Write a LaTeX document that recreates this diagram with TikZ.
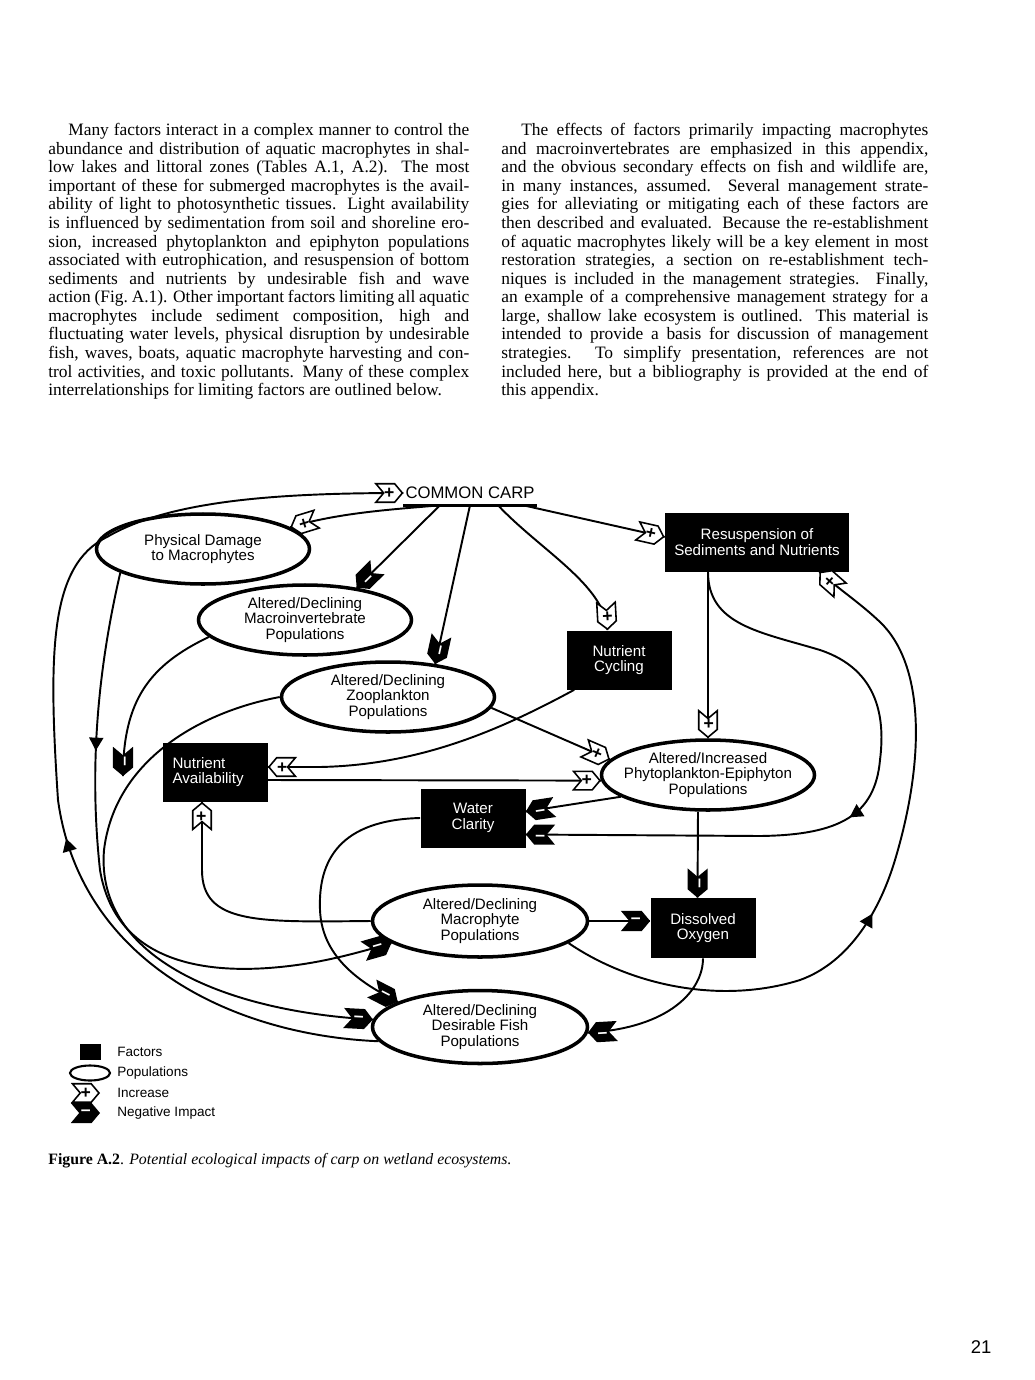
\documentclass[tikz,border=0pt]{standalone}
\usepackage{fontspec}
\setmainfont{Liberation Serif}
\setsansfont{Liberation Sans}
\usetikzlibrary{shapes.geometric,shapes.symbols,arrows.meta,decorations.markings}
\tikzset{
  % FACTOR BOXES
  frameFactor/.style={
    rectangle,
    fill=black,
    text=white,
    minimum width=21mm,
    minimum height=11.8mm,
    inner sep=1mm,
    align=center,
    font=\sffamily\fontsize{8.6}{9}\selectfont
  },
  % POPULATION ELLIPSES
  framePopulation/.style={
    ellipse,
    draw,
    line width=2pt,
    minimum width=42.6mm,
    minimum height=14mm,
    inner xsep=-6pt,
    inner ysep=0pt,
    align=center,
    font=\sffamily\fontsize{8.6}{9}\selectfont
  },
  % CARP TITLE
  frameCarp/.style={
    inner xsep=1pt,
    inner ysep=3.4pt,
    font=\sffamily\fontsize{9.5}{11}\selectfont
  },
  % LEGEND TEXT
  frameKey/.style={
    anchor=west,
    inner sep=0pt,
    font=\sffamily\fontsize{7.7}{9}\selectfont
  },
  % PAGE TEXT
  frameBody/.style={
    anchor=north west,
    inner sep=0pt,
    align=justify,
    font=\rmfamily\fontsize{9.9}{10.57}\selectfont,
    execute at begin node={\tolerance=9999\hyphenpenalty=10000}
  },
  frameCaption/.style={
    anchor=base west,
    inner sep=0pt,
    font=\rmfamily\fontsize{9}{11}\selectfont
  },
  framePage/.style={
    inner sep=0pt,
    font=\sffamily\fontsize{10.5}{12}\selectfont
  },
  % EFFECT MARKERS
  markIncrease/.style={
    signal,
    signal from=west,
    signal to=east,
    signal pointer angle=100,
    draw,
    fill=white,
    line width=0.9pt,
    minimum width=5.3mm,
    minimum height=3.7mm,
    inner sep=0pt,
    font=\sffamily\bfseries\fontsize{10}{10}\selectfont,
    sloped,
    allow upside down,
    anchor=east
  },
  markNegative/.style={
    markIncrease,
    fill=black,
    text=white
  },
  % CONNECTORS
  lineLink/.style={
    draw,
    line width=1.1pt
  },
  midArrow/.style={
    postaction={decorate},
    decoration={markings,
      mark=at position #1 with {\arrow{Triangle[length=2.6mm,width=2.8mm]}}}
  }
}

\begin{document}
\begin{tikzpicture}[x=0.2mm,y=-0.2mm]

\path [use as bounding box, fill=white] (0,0) rectangle (1035,1380);

% Page text
\node [frameBody, text width=84.2mm] (text_left) at (48,123) {\hspace*{4mm}Many factors interact in a complex manner to control the\linebreak
abundance and distribution of aquatic macrophytes in shal-\linebreak
low lakes and littoral zones (Tables A.1, A.2). The most\linebreak
important of these for submerged macrophytes is the avail-\linebreak
ability of light to photosynthetic tissues. Light availability\linebreak
is influenced by sedimentation from soil and shoreline ero-\linebreak
sion, increased phytoplankton and epiphyton populations\linebreak
associated with eutrophication, and resuspension of bottom\linebreak
sediments and nutrients by undesirable fish and wave\linebreak
action (Fig.\ A.1). Other important factors limiting all aquatic\linebreak
macrophytes include sediment composition, high and\linebreak
fluctuating water levels, physical disruption by undesirable\linebreak
fish, waves, boats, aquatic macrophyte harvesting and con-\linebreak
trol activities, and toxic pollutants. Many of these complex\linebreak
interrelationships for limiting factors are outlined below.};

\node [frameBody, text width=85.4mm] (text_right) at (501,123) {\hspace*{4mm}The effects of factors primarily impacting macrophytes\linebreak
and macroinvertebrates are emphasized in this appendix,\linebreak
and the obvious secondary effects on fish and wildlife are,\linebreak
in many instances, assumed. Several management strate-\linebreak
gies for alleviating or mitigating each of these factors are\linebreak
then described and evaluated. Because the re-establishment\linebreak
of aquatic macrophytes likely will be a key element in most\linebreak
restoration strategies, a section on re-establishment tech-\linebreak
niques is included in the management strategies. Finally,\linebreak
an example of a comprehensive management strategy for a\linebreak
large, shallow lake ecosystem is outlined. This material is\linebreak
intended to provide a basis for discussion of management\linebreak
strategies. To simplify presentation, references are not\linebreak
included here, but a bibliography is provided at the end of\linebreak
this appendix.};

% Carp
\node [frameCarp] (carp) at (470,493) {COMMON CARP};
\draw [line width=1.7pt] (carp.south west) -- (carp.south east);

% Populations
\node [framePopulation] (pop_damage) at (203,549) {Physical Damage\\to Macrophytes};
\node [framePopulation] (pop_macroinv) at (305,620) {Altered/Declining\\Macroinvertebrate\\Populations};
\node [framePopulation] (pop_zooplankton) at (388,697) {Altered/Declining\\Zooplankton\\Populations};
\node [framePopulation] (pop_phyto) at (708,775) {Altered/Increased\\Phytoplankton-Epiphyton\\Populations};
\node [framePopulation, minimum width=43mm, minimum height=14.4mm] (pop_macrophyte) at (480,921) {Altered/Declining\\Macrophyte\\Populations};
\node [framePopulation, minimum width=43mm, minimum height=14.6mm] (pop_fish) at (480,1027) {Altered/Declining\\Desirable Fish\\Populations};

% Factors
\node [frameFactor, minimum width=36.8mm] (fac_resusp) at (757,542) {Resuspension of\\Sediments and Nutrients};
\node [frameFactor] (fac_cycling) at (619,660) {Nutrient\\Cycling};
\node [frameFactor, align=left, text width=17mm] (fac_avail) at (215,772) {Nutrient\\Availability};
\node [frameFactor] (fac_clarity) at (473,818) {Water\\Clarity};
\node [frameFactor, minimum height=12mm] (fac_oxygen) at (703,928) {Dissolved\\Oxygen};

\coordinate (join_food) at (123,776);

% Lines from carp
\path [lineLink] ([xshift=-6mm]carp.south) .. controls (400,509) and (340,512) .. (pop_damage.14) node [markIncrease, at end] {+};
\path [lineLink] ([xshift=-6mm]carp.south) -- (pop_macroinv.32) node [markNegative, at end] {--};
\path [lineLink] (carp.south) -- (pop_zooplankton.35) node [markNegative, at end] {--};
\path [lineLink] ([xshift=5.6mm]carp.south) .. controls (540,550) and (605,585) .. ([xshift=-2.3mm]fac_cycling.north) node [markIncrease, at end] {+};
\path [lineLink] ([xshift=10.6mm]carp.south) -- ([yshift=1mm]fac_resusp.west) node [markIncrease, at end] {+};

% Lines on the left
\path [lineLink, midArrow=0.39] (pop_fish.188) .. controls (230,1035) and (80,960) .. (58,800) .. controls (48,650) and (50,565) .. (107,537) .. controls (170,500) and (280,493) .. (carp.west) node [markIncrease, at end] {+};
\path [lineLink, midArrow=0.28] (pop_damage.196) .. controls (100,660) and (88,760) .. (100,870) .. controls (115,960) and (200,975) .. (280,967) .. controls (320,963) and (350,955) .. (pop_macrophyte.194) node [markNegative, at end] {--};
\path [lineLink] (pop_zooplankton.west) .. controls (200,712) and (115,760) .. (104,850) .. controls (95,960) and (230,1012) .. (pop_fish.176) node [markNegative, at end] {--};
\path [lineLink] (pop_macroinv.190) .. controls (150,665) and (123,700) .. (join_food) node [markNegative, at end] {--};
\path [lineLink] (fac_clarity.west) .. controls (340,820) and (318,860) .. (320,910) .. controls (322,960) and (365,985) .. (pop_fish.163) node [markNegative, at end] {--};
\path [lineLink] (pop_macrophyte.west) .. controls (260,922) and (202,925) .. (202,870) -- ([xshift=-2.6mm]fac_avail.south) node [markIncrease, at end] {+};

% Nutrient lines
\path [lineLink] ([xshift=1.6mm]fac_cycling.south west) .. controls (500,730) and (420,765) .. (320,767) -- ([yshift=1mm]fac_avail.east) node [markIncrease, at end] {+};
\path [lineLink] ([yshift=-1.6mm]fac_avail.east) -- (pop_phyto.183) node [markIncrease, at end] {+};
\path [lineLink] (pop_zooplankton.-6) -- (pop_phyto.171) node [markIncrease, at end] {+};

% Lines on the right
\path [lineLink] ([xshift=-9.8mm]fac_resusp.south) -- (pop_phyto.north) node [markIncrease, at end] {+};
\path [lineLink, midArrow=0.52] ([xshift=-9.8mm]fac_resusp.south) .. controls (708,625) and (760,632) .. (820,650) .. controls (880,670) and (885,720) .. (880,760) .. controls (875,815) and (840,835) .. (760,836) -- ([yshift=-3.3mm]fac_clarity.east) node [markNegative, at end] {--};
\path [lineLink] (pop_phyto.194) -- ([yshift=1.3mm]fac_clarity.east) node [markNegative, at end] {--};
\path [lineLink] ([xshift=-2mm]pop_phyto.south) -- ([xshift=-1.1mm]fac_oxygen.north) node [markNegative, at end] {--};
\path [lineLink] (pop_macrophyte.east) -- (fac_oxygen.west |- pop_macrophyte.east) node [markNegative, at end] {--};
\path [lineLink] (fac_oxygen.south) .. controls (703,990) and (670,1028) .. (pop_fish.-3) node [markNegative, at end] {--};
\path [lineLink, midArrow=0.47] (pop_macrophyte.-14) .. controls (630,985) and (720,1005) .. (800,980) .. controls (850,962) and (880,910) .. (895,860) .. controls (925,760) and (925,665) .. (880,622) .. controls (860,603) and (840,590) .. ([xshift=-6mm]fac_resusp.south east) node [markIncrease, at end] {+};

% Legend
\node [frameFactor, minimum width=4.2mm, minimum height=3.2mm, inner sep=0pt] (key_factor) at (90,1052) {};
\node [framePopulation, minimum width=8mm, minimum height=3mm, line width=1.2pt] (key_population) at (90,1073) {};
\node [markIncrease] (key_increase) at (100,1093) {+};
\node [markNegative] (key_negative) at (100,1113) {--};
\node [frameKey] (key_factor_text) at (117,1052) {Factors};
\node [frameKey] (key_population_text) at (117,1073) {Populations};
\node [frameKey] (key_increase_text) at (117,1093) {Increase};
\node [frameKey] (key_negative_text) at (117,1113) {Negative Impact};

% Caption and page number
\node [frameCaption] (caption) at (48,1164) {\textbf{Figure A.2}. \textit{Potential ecological impacts of carp on wetland ecosystems.}};
\node [framePage] (page_number) at (981,1347) {21};

\end{tikzpicture}
\end{document}
